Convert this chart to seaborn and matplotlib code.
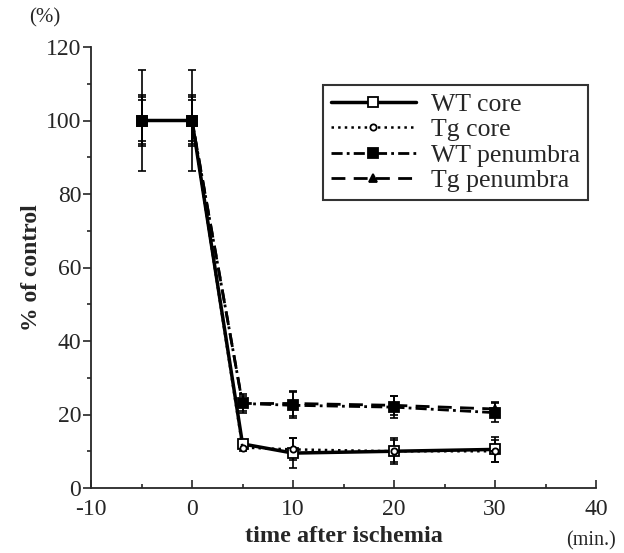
import numpy as np
import pandas as pd
import matplotlib.pyplot as plt
import seaborn as sns
from matplotlib.ticker import MultipleLocator

# Data
time = [-5, 0, 5, 10, 20, 30]
wt_core = [100, 100, 12, 9.5, 10, 10.5]
wt_core_err = [13.7, 13.7, 1.0, 4.0, 3.5, 3.5]
tg_core = [100, 100, 11, 10.5, 10, 10]
tg_core_err = [5.5, 5.5, 1.0, 3.0, 3.0, 3.0]
wt_pen = [100, 100, 23, 22.5, 22, 20.5]
wt_pen_err = [7, 7, 2.5, 3.5, 3.0, 2.5]
tg_pen = [100, 100, 23, 23, 22.5, 21.5]
tg_pen_err = [6.5, 6.5, 2.0, 3.5, 2.5, 2.0]

sns.set_style('ticks')
plt.rcParams['font.family'] = ['Liberation Serif', 'DejaVu Serif']
plt.rcParams['axes.unicode_minus'] = False

fig = plt.figure(figsize=(6.24, 5.53), dpi=100)
ax = fig.add_axes([91/624, 1-488/553, (596-91)/624, (488-47)/553])

series = [
    ('WT core', wt_core, wt_core_err, '-', 's', 'white', 7, 2.5),
    ('Tg core', tg_core, tg_core_err, ':', 'o', 'white', 4.5, 1.8),
    ('WT penumbra', wt_pen, wt_pen_err, (0, (4, 1.5, 1, 1.5)), 's', 'black', 7, 2.0),
    ('Tg penumbra', tg_pen, tg_pen_err, (0, (5, 3)), '^', 'black', 6, 2.0),
]

for name, vals, err, ls, mk, mfc, ms, lw in series:
    ax.errorbar(time, vals, yerr=err, fmt='none', ecolor='black',
                elinewidth=1.2, capsize=3, capthick=1.2, zorder=2)
    sns.lineplot(x=time, y=vals, ax=ax, color='black', linestyle=ls,
                 linewidth=lw, marker=mk, markersize=ms,
                 markerfacecolor=mfc, markeredgecolor='black',
                 markeredgewidth=1.3, label=name, zorder=3)

ax.set_xlim(-10, 40)
ax.set_ylim(0, 120)
ax.xaxis.set_major_locator(MultipleLocator(10))
ax.xaxis.set_minor_locator(MultipleLocator(5))
ax.yaxis.set_major_locator(MultipleLocator(20))
ax.yaxis.set_minor_locator(MultipleLocator(10))
ax.tick_params(axis='x', which='both', direction='in', labelsize=17, width=1.2)
ax.tick_params(axis='x', which='major', length=6, pad=8)
ax.tick_params(axis='x', which='minor', length=3)
ax.tick_params(axis='y', which='both', direction='out', labelsize=17, width=1.2)
ax.tick_params(axis='y', which='major', length=6, pad=1)
ax.tick_params(axis='y', which='minor', length=3)
for s in ['top', 'right']:
    ax.spines[s].set_visible(False)
for s in ['left', 'bottom']:
    ax.spines[s].set_linewidth(1.3)

ax.set_xlabel('time after ischemia', fontsize=17.5, fontweight='bold', labelpad=4)
ax.set_ylabel('% of control', fontsize=17, fontweight='bold', labelpad=3)
fig.text(45/624, 1-18/553, '(%)', fontsize=15, ha='center', va='center')
fig.text(591/624, 1-541/553, '(min.)', fontsize=14.5, ha='center', va='center')

leg = ax.legend(loc='upper left', bbox_to_anchor=(323/624, 1-85/553),
                bbox_transform=fig.transFigure, fontsize=18.5, frameon=True,
                fancybox=False, edgecolor='black', handlelength=3.3,
                labelspacing=0.1, borderpad=0.3, handletextpad=0.6,
                borderaxespad=0)
leg.get_frame().set_linewidth(1.5)

fig.savefig('out.png', dpi=100)
